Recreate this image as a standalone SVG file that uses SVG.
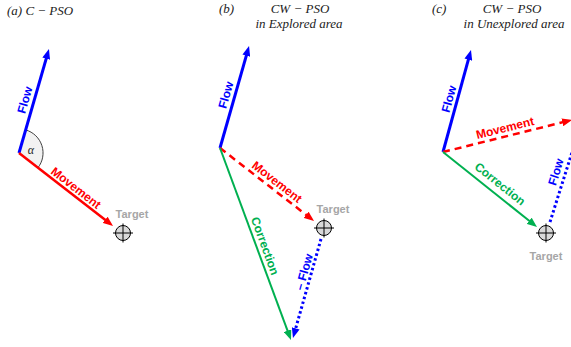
<svg xmlns="http://www.w3.org/2000/svg" width="571" height="347" viewBox="0 0 571 347">
<style>
.title{font-family:"Liberation Serif","Times New Roman",serif;font-style:italic;font-size:13px;fill:#222}
.lbl{font-family:"Liberation Sans",Arial,sans-serif;font-weight:bold;font-size:12px}
.tgt{font-family:"Liberation Sans",Arial,sans-serif;font-weight:bold;font-size:11px;fill:#a6a6a6}
.blue{stroke:#0000ff;fill:none}
.red{stroke:#ff0000;fill:none}
.green{stroke:#00b050;fill:none}
.flow{stroke-width:3}
.mov{stroke-width:2.5}
.cor{stroke-width:2}
.dash{stroke-dasharray:7,5}
.dot{stroke-dasharray:2.5,2.5}
.tc{fill:#d9d9d9;stroke:#000;stroke-width:1}
.th{stroke:#000;stroke-width:1}
</style>
<defs>
<marker id="ab" viewBox="0 0 10 8" markerWidth="10" markerHeight="8" refX="4" refY="4" orient="auto" markerUnits="userSpaceOnUse"><path d="M0,0 L10,4 L0,8 z" fill="#0000ff"/></marker>
<marker id="ar" viewBox="0 0 10 8" markerWidth="10" markerHeight="8" refX="4" refY="4" orient="auto" markerUnits="userSpaceOnUse"><path d="M0,0 L10,4 L0,8 z" fill="#ff0000"/></marker>
<marker id="ag" viewBox="0 0 10 8" markerWidth="10" markerHeight="8" refX="4" refY="4" orient="auto" markerUnits="userSpaceOnUse"><path d="M0,0 L10,4 L0,8 z" fill="#00b050"/></marker>
<g id="target"><circle cx="0" cy="0" r="7.5" class="tc"/><line x1="-10" y1="0" x2="10" y2="0" class="th"/><line x1="0" y1="-9.5" x2="0" y2="9.5" class="th"/></g>
</defs>

<g id="titles">
<text class="title" x="7" y="15">(a)  C − PSO</text>
<text class="title" x="219" y="13">(b)</text>
<text class="title" x="300" y="13" text-anchor="middle">CW − PSO</text>
<text class="title" x="299" y="28" text-anchor="middle">in Explored area</text>
<text class="title" x="432" y="13">(c)</text>
<text class="title" x="512" y="13" text-anchor="middle">CW − PSO</text>
<text class="title" x="514" y="28" text-anchor="middle">in Unexplored area</text>
</g>

<g id="angle">
<path d="M19,153 L25.7,129.9 A24,24 0 0 1 37.9,167.8 Z" fill="#f2f2f2" stroke="none"/>
<path d="M25.7,129.9 A24,24 0 0 1 37.9,167.8" fill="none" stroke="#404040" stroke-width="1"/>
<text x="31" y="154" text-anchor="middle" style="font-family:'Liberation Serif',serif;font-style:italic;font-size:12px;fill:#222">α</text>
</g>

<g id="target-a"><use href="#target" x="123" y="233"/><text class="tgt" x="132" y="218" text-anchor="middle">Target</text></g>
<g id="target-b"><use href="#target" x="324" y="228"/><text class="tgt" x="333" y="213" text-anchor="middle">Target</text></g>
<g id="target-c"><use href="#target" x="546" y="233"/><text class="tgt" x="546" y="260" text-anchor="middle">Target</text></g>

<g id="connectors">
<line x1="19" y1="153" x2="47.3" y2="54.8" class="blue flow" marker-end="url(#ab)"/>
<line x1="19" y1="153" x2="108.3" y2="222.3" class="red mov" marker-end="url(#ar)"/>
<line x1="220" y1="148" x2="247.4" y2="51.8" class="blue flow" marker-end="url(#ab)"/>
<line x1="220" y1="148" x2="309.3" y2="217.3" class="red mov dash" marker-end="url(#ar)"/>
<line x1="220" y1="148" x2="288.9" y2="334.4" class="green cor" marker-end="url(#ag)"/>
<line x1="321" y1="239" x2="294.6" y2="332.2" class="blue flow dot" marker-end="url(#ab)"/>
<line x1="443" y1="152" x2="469.4" y2="55.8" class="blue flow" marker-end="url(#ab)"/>
<line x1="443" y1="152" x2="566.2" y2="121.4" class="red mov dash" marker-end="url(#ar)"/>
<line x1="443" y1="152" x2="532.3" y2="223.3" class="green cor" marker-end="url(#ag)"/>
<line x1="550" y1="222" x2="581" y2="124" class="blue flow dot"/>
</g>

<g id="labels">
<text class="lbl" fill="#0000ff" text-anchor="middle" transform="translate(25,100) rotate(-74)" y="4">Flow</text>
<text class="lbl" fill="#ff0000" text-anchor="middle" transform="translate(76,188) rotate(37.8)" y="4">Movement</text>
<text class="lbl" fill="#0000ff" text-anchor="middle" transform="translate(226,95) rotate(-74)" y="4">Flow</text>
<text class="lbl" fill="#ff0000" text-anchor="middle" transform="translate(277,182) rotate(37.8)" y="4">Movement</text>
<text class="lbl" fill="#00b050" text-anchor="middle" transform="translate(265,246) rotate(70)" y="4">Correction</text>
<text class="lbl" fill="#0000ff" text-anchor="middle" transform="translate(304,272) rotate(-74)" y="4">– Flow</text>
<text class="lbl" fill="#0000ff" text-anchor="middle" transform="translate(449,99) rotate(-74.6)" y="4">Flow</text>
<text class="lbl" fill="#ff0000" text-anchor="middle" transform="translate(505,128) rotate(-14)" y="4">Movement</text>
<text class="lbl" fill="#00b050" text-anchor="middle" transform="translate(500,184) rotate(38.6)" y="4">Correction</text>
<text class="lbl" fill="#0000ff" text-anchor="middle" transform="translate(556,172) rotate(-72.6)" y="4">Flow</text>
</g>
</svg>
